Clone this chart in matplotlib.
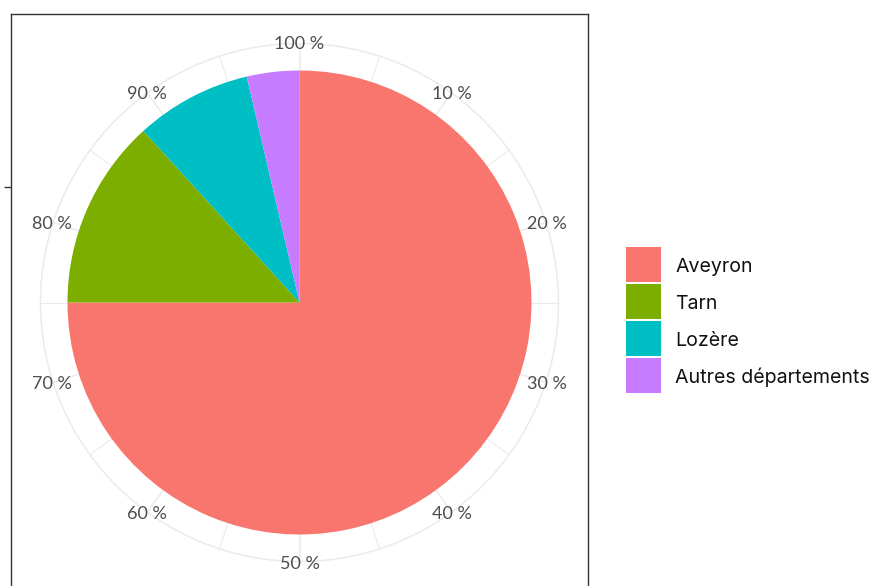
import numpy as np
import matplotlib
matplotlib.use('Agg')
import matplotlib.pyplot as plt
from matplotlib.patches import Circle, Rectangle

plt.rcParams['font.family'] = ['Lato', 'DejaVu Sans']

# données
departements = ['Aveyron', 'Tarn', 'Lozère', 'Autres départements']
parts = [75.0, 13.25, 8.1, 3.65]
couleurs = ['#F8766D', '#7CAE00', '#00BFC4', '#C77CFF']
graduations = [10, 20, 30, 40, 50, 60, 70, 80, 90, 100]
etiquettes = [f'{g} %' for g in graduations]

W, H = 873, 586
fig = plt.figure(figsize=(W / 100, H / 100), dpi=100)
ax = fig.add_axes([11 / W, -5 / H, 577 / W, 577 / H])

R_PIE = 232
R_GRID = 259
R_LAB = 260
GRIS = '#EBEBEB'

# grille polaire
ax.add_patch(Circle((0, 0), R_GRID, fill=False, ec=GRIS, lw=1.1, zorder=1))
for p in np.arange(0, 100, 5):
    a = np.deg2rad(90 - p * 3.6)
    ax.plot([0, R_GRID * np.cos(a)], [0, R_GRID * np.sin(a)],
            color=GRIS, lw=1.1 if p % 10 == 0 else 0.8, zorder=1)

wedges, _ = ax.pie(parts, colors=couleurs, radius=R_PIE, startangle=90,
                   counterclock=False, wedgeprops=dict(lw=0, zorder=2))

# étiquettes de l'axe angulaire
for g, lab in zip(graduations, etiquettes):
    a = np.deg2rad(90 - g * 3.6)
    ax.text(R_LAB * np.cos(a), R_LAB * np.sin(a), lab, ha='center',
            va='center_baseline', fontsize=13, color='#4D4D4D', zorder=3)

half = 288.5
ax.set_xlim(-half, half)
ax.set_ylim(-half, half)
ax.set_frame_on(True)
for s in ax.spines.values():
    s.set_color('#333333')
    s.set_linewidth(1.0)
ax.set_xticks([])
ax.set_yticks([R_PIE / 2])
ax.set_yticklabels([''])
ax.tick_params(axis='y', length=5, width=1.0, color='#333333')

# légende dessinée à la main (clés carrées de 35 px)
x0, y0, cle, pas = 626, 247, 35, 37
for i, (nom, c) in enumerate(zip(departements, couleurs)):
    haut = y0 + i * pas
    fig.patches.append(Rectangle((x0 / W, 1 - (haut + cle) / H), cle / W, cle / H,
                                 transform=fig.transFigure, fc=c, ec='none'))
    fig.text((x0 + cle + 14) / W, 1 - (haut + cle / 2) / H, nom,
             ha='left', va='center_baseline', fontsize=14.1, family='Inter',
             color='#111111')

fig.savefig('out.png', dpi=100)
